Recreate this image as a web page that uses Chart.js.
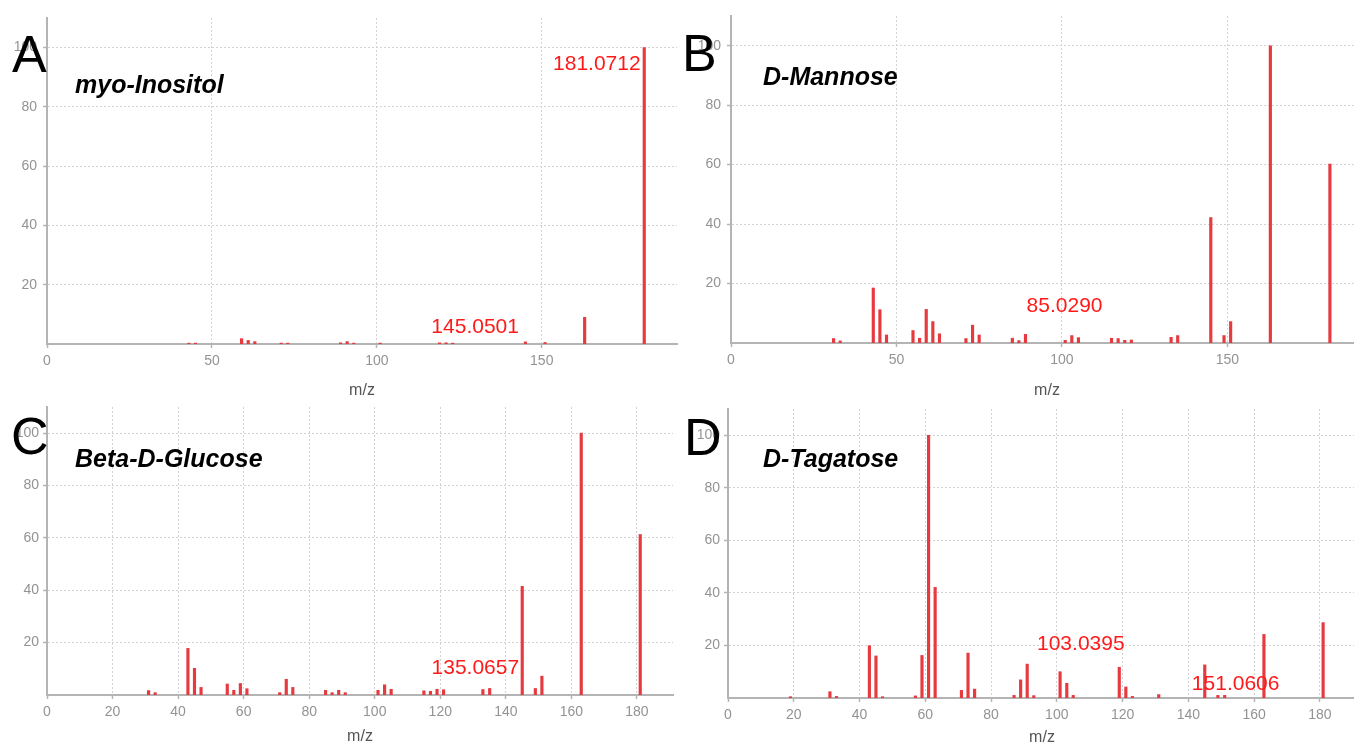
<!DOCTYPE html>
<html>
<head>
<meta charset="utf-8">
<script src="https://cdn.jsdelivr.net/npm/chart.js@4.4.1/dist/chart.umd.min.js"></script>
<style>
  html, body { margin: 0; padding: 0; background: #fff; width: 1354px; height: 747px; overflow: hidden; position: relative; }
  canvas { position: absolute; }
  .letter { position: absolute; font: 52px/1 "Liberation Sans", Arial, sans-serif; color: #000; z-index: 5; }
  .name { position: absolute; font: italic bold 25px/1 "Liberation Sans", Arial, sans-serif; color: #000; white-space: nowrap; z-index: 5; }
</style>
</head>
<body>
<canvas id="chartA" width="680" height="400" style="left:0;top:0"></canvas>
<canvas id="chartB" width="690" height="400" style="left:676px;top:0"></canvas>
<canvas id="chartC" width="680" height="347" style="left:0;top:400px"></canvas>
<canvas id="chartD" width="690" height="347" style="left:676px;top:400px"></canvas>

<div class="letter" style="left:12px;top:28px">A</div>
<div class="letter" style="left:682px;top:27px">B</div>
<div class="letter" style="left:11px;top:410px">C</div>
<div class="letter" style="left:684px;top:411px">D</div>
<div class="name" style="left:75px;top:72px">myo-Inositol</div>
<div class="name" style="left:763px;top:64px">D-Mannose</div>
<div class="name" style="left:75px;top:446px">Beta-D-Glucose</div>
<div class="name" style="left:763px;top:446px">D-Tagatose</div>

<script>
// ---- Spectra: fragment m/z and relative intensity (%) ----
const inositolMz        = [43, 45, 59, 61, 63, 71, 73, 89, 91, 93, 101, 119, 121, 123, 145.0501, 151, 163, 181.0712];
const inositolIntensity = [0.3, 0.3, 1.8, 1.2, 0.8, 0.3, 0.3, 0.4, 0.8, 0.3, 0.3, 0.4, 0.4, 0.3, 0.7, 0.5, 9.0, 100];
const inositolNamed     = [145.0501, 181.0712];

const mannoseMz        = [31, 33, 43, 45, 47, 55, 57, 59, 61, 63, 71, 73, 75, 85.0290, 87, 89, 101, 103, 105, 115, 117, 119, 121, 133, 135, 145, 149, 151, 163, 181];
const mannoseIntensity = [1.5, 0.7, 18.5, 11.2, 2.7, 4.2, 1.6, 11.3, 7.2, 3.1, 1.5, 6.0, 2.7, 1.6, 0.8, 2.9, 0.9, 2.5, 1.8, 1.6, 1.5, 0.9, 1.0, 1.9, 2.5, 42.2, 2.5, 7.2, 100, 60.2];
const mannoseNamed     = [85.0290];

const glucoseMz        = [31, 33, 43, 45, 47, 55, 57, 59, 61, 71, 73, 75, 85, 87, 89, 91, 101, 103, 105, 115, 117, 119, 121, 133, 135.0657, 145, 149, 151, 163, 181];
const glucoseIntensity = [1.7, 0.9, 17.8, 10.2, 2.9, 4.2, 1.8, 4.4, 2.4, 0.9, 6.0, 2.9, 1.8, 0.9, 1.8, 0.9, 1.8, 3.9, 2.2, 1.6, 1.4, 2.2, 2.0, 2.1, 2.5, 41.5, 2.5, 7.2, 100, 61.3];
const glucoseNamed     = [135.0657];

const tagatoseMz        = [19, 31, 33, 43, 45, 47, 57, 59, 61, 63, 71, 73, 75, 87, 89, 91, 93, 101, 103.0395, 105, 119, 121, 123, 131, 145, 149, 151.0606, 163, 181];
const tagatoseIntensity = [0.5, 2.4, 0.6, 19.9, 16.0, 0.5, 0.8, 16.2, 100, 42.1, 2.9, 17.1, 3.4, 1.0, 6.9, 12.9, 0.9, 10.0, 5.6, 1.0, 11.7, 4.2, 0.6, 1.3, 12.6, 1.0, 1.0, 24.2, 28.7];
const tagatoseNamed     = [103.0395, 151.0606];

// ---- Axis ticks ----
const yTickValues   = [0, 20, 40, 60, 80, 100];
const xTicksCoarse  = [0, 50, 100, 150];
const xTicksFine    = [0, 20, 40, 60, 80, 100, 120, 140, 160, 180];
const X_MAX = 191;
const Y_MAX = 110;

const FONT = '"Liberation Sans", Arial, sans-serif';
const BAR_RED = '#e63a3f';
const AXIS_GREY = '#b4b4b4';
const GRID_GREY = '#d2d2d2';
const TICK_TEXT = '#939393';

// Red m/z annotations placed in data coordinates (centre of text)
const peakNotes = {
  id: 'peakNotes',
  afterDatasetsDraw(chart, args, opts) {
    const { ctx, scales: { x, y } } = chart;
    ctx.save();
    ctx.font = '21px ' + FONT;
    ctx.fillStyle = '#ff1a1a';
    ctx.textAlign = 'center';
    ctx.textBaseline = 'middle';
    (opts.notes || []).forEach(n => {
      ctx.fillText(n.value.toFixed(4), x.getPixelForValue(n.cx), y.getPixelForValue(n.cy));
    });
    ctx.restore();
  }
};

function buildSpectrum(p) {
  const inList = (list, v) => list.indexOf(v) !== -1;
  return new Chart(document.getElementById(p.id), {
    type: 'bar',
    data: {
      datasets: [{
        data: p.mz.map((m, i) => ({ x: m, y: p.intensity[i] })),
        backgroundColor: BAR_RED,
        borderWidth: 0,
        barThickness: 2.5
      }]
    },
    options: {
      responsive: false,
      animation: false,
      events: [],
      layout: { padding: { top: p.padTop, right: p.padRight, left: 0, bottom: 0 } },
      plugins: {
        legend: { display: false },
        tooltip: { enabled: false },
        peakNotes: { notes: p.notes }
      },
      scales: {
        x: {
          type: 'linear',
          min: 0, max: X_MAX,
          offset: false,
          afterBuildTicks: s => { s.ticks = p.xTicks.concat([X_MAX]).map(v => ({ value: v })); },
          afterFit: s => { s.height = p.xAxisHeight; s.paddingLeft = 0; s.paddingRight = 0; },
          ticks: {
            autoSkip: false, maxRotation: 0, color: TICK_TEXT, padding: 5,
            font: { family: FONT, size: 14 },
            callback: v => inList(p.xTicks, v) ? String(v) : null
          },
          grid: {
            offset: false,
            color: c => (c.tick && c.tick.value > 0 && inList(p.xTicks, c.tick.value)) ? GRID_GREY : 'rgba(0,0,0,0)',
            lineWidth: 1, tickLength: 4, tickColor: AXIS_GREY, tickWidth: 1.5, tickBorderDash: []
          },
          border: { color: AXIS_GREY, width: 2, dash: [2, 2] },
          title: {
            display: true, text: 'm/z', color: '#555',
            font: { family: FONT, size: 16 },
            padding: { top: 0, bottom: p.titlePad }
          }
        },
        y: {
          min: 0, max: Y_MAX,
          afterBuildTicks: s => { s.ticks = yTickValues.concat([Y_MAX]).map(v => ({ value: v })); },
          afterFit: s => { s.width = p.yAxisWidth; s.paddingTop = 0; s.paddingBottom = 0; },
          ticks: {
            color: TICK_TEXT, padding: p.yPad,
            font: { family: FONT, size: 14 },
            callback: v => (v > 0 && inList(yTickValues, v)) ? String(v) : null
          },
          grid: {
            color: c => (c.tick && c.tick.value > 0 && inList(yTickValues, c.tick.value)) ? GRID_GREY : 'rgba(0,0,0,0)',
            lineWidth: 1, tickLength: 4, tickColor: AXIS_GREY, tickWidth: 1.5, tickBorderDash: []
          },
          border: { color: AXIS_GREY, width: 2, dash: [2, 2] }
        }
      }
    },
    plugins: [peakNotes]
  });
}

buildSpectrum({
  id: 'chartA', mz: inositolMz, intensity: inositolIntensity, xTicks: xTicksCoarse,
  yAxisWidth: 47, xAxisHeight: 56, padTop: 18, padRight: 3, titlePad: 0, yPad: 6,
  notes: [
    { value: inositolNamed[0], cx: 129.8, cy: 5.5 },
    { value: inositolNamed[1], cx: 166.7, cy: 94.5 }
  ]
});

buildSpectrum({
  id: 'chartB', mz: mannoseMz, intensity: mannoseIntensity, xTicks: xTicksCoarse,
  yAxisWidth: 55, xAxisHeight: 57, padTop: 16, padRight: 3, titlePad: 0, yPad: 6,
  notes: [
    { value: mannoseNamed[0], cx: 100.8, cy: 12.5 }
  ]
});

buildSpectrum({
  id: 'chartC', mz: glucoseMz, intensity: glucoseIntensity, xTicks: xTicksFine,
  yAxisWidth: 47, xAxisHeight: 52, padTop: 7, padRight: 7, titlePad: 1, yPad: 4,
  notes: [
    { value: glucoseNamed[0], cx: 130.7, cy: 10.1 }
  ]
});

buildSpectrum({
  id: 'chartD', mz: tagatoseMz, intensity: tagatoseIntensity, xTicks: xTicksFine,
  yAxisWidth: 52, xAxisHeight: 49, padTop: 9, padRight: 10, titlePad: 0, yPad: 4,
  notes: [
    { value: tagatoseNamed[0], cx: 107.3, cy: 20.4 },
    { value: tagatoseNamed[1], cx: 154.4, cy: 5.4 }
  ]
});
</script>
</body>
</html>
